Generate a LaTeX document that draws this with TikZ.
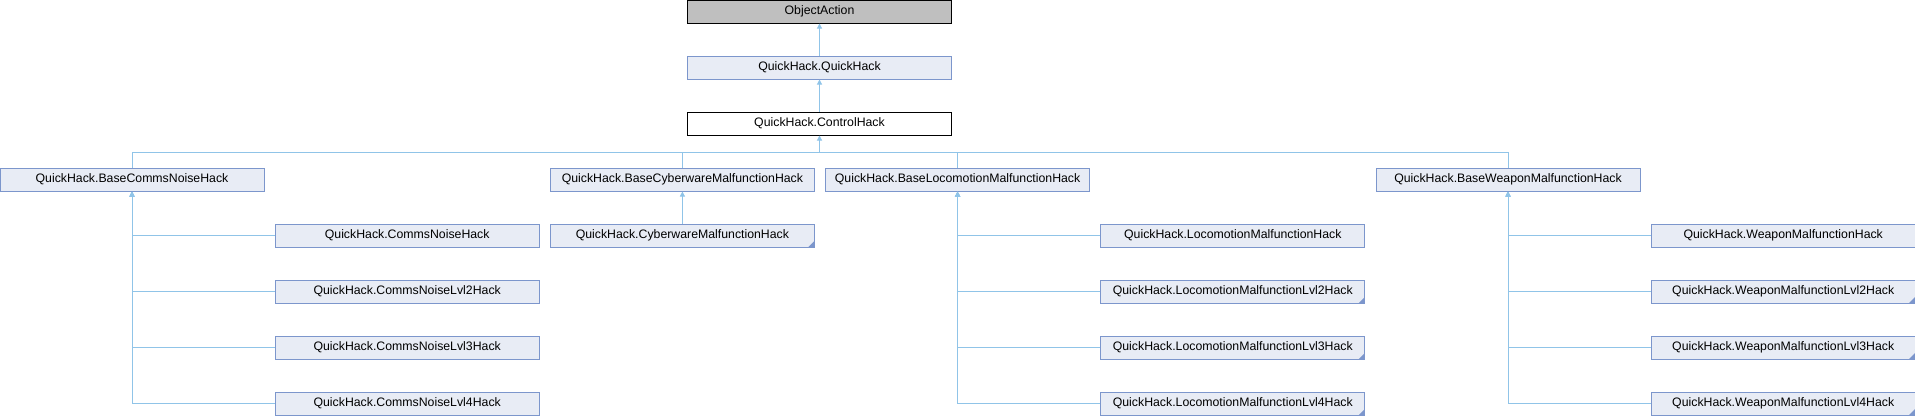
\documentclass[tikz,border=0pt]{standalone}
\usepackage{fontspec}
\setmainfont{Liberation Sans}
\usetikzlibrary{arrows.meta}
\definecolor{edgecol}{RGB}{144,196,232}
\definecolor{boxfill}{RGB}{232,236,245}
\definecolor{boxline}{RGB}{124,150,204}
\definecolor{grayfill}{RGB}{191,191,191}
\begin{document}
\begin{tikzpicture}[x=1pt,y=-1pt,
  cls/.style={draw=boxline,fill=boxfill,line width=1pt,minimum width=264pt,minimum height=23pt,inner sep=0pt,font=\fontsize{12.3}{14}\selectfont},
  rootcls/.style={cls,draw=black,fill=grayfill},
  curcls/.style={cls,draw=black,fill=white},
  conn/.style={draw=edgecol,line width=1pt},
  arr/.style={conn,-{Triangle[width=5pt,length=5pt]}},
  more/.style={fill=boxline}]
\useasboundingbox (0,0) rectangle (1915,416);
% top chain
\node[rootcls] (oa) at (819.5,11.5) {ObjectAction};
\node[cls] (qh) at (819.5,67.5) {QuickHack.QuickHack};
\node[curcls] (ch) at (819.5,123.5) {QuickHack.ControlHack};
% bases
\node[cls] (bcn) at (132,179.5) {QuickHack.BaseCommsNoiseHack};
\node[cls] (bcm) at (682.4,179.5) {QuickHack.BaseCyberwareMalfunctionHack};
\node[cls] (blm) at (957.6,179.5) {QuickHack.BaseLocomotionMalfunctionHack};
\node[cls] (bwm) at (1508,179.5) {QuickHack.BaseWeaponMalfunctionHack};
% comms children
\node[cls] (cn1) at (407.2,235.5) {QuickHack.CommsNoiseHack};
\node[cls] (cn2) at (407.2,291.5) {QuickHack.CommsNoiseLvl2Hack};
\node[cls] (cn3) at (407.2,347.5) {QuickHack.CommsNoiseLvl3Hack};
\node[cls] (cn4) at (407.2,403.5) {QuickHack.CommsNoiseLvl4Hack};
% cyberware child
\node[cls] (cm1) at (682.4,235.5) {QuickHack.CyberwareMalfunctionHack};
% locomotion children
\node[cls] (lm1) at (1232.8,235.5) {QuickHack.LocomotionMalfunctionHack};
\node[cls] (lm2) at (1232.8,291.5) {QuickHack.LocomotionMalfunctionLvl2Hack};
\node[cls] (lm3) at (1232.8,347.5) {QuickHack.LocomotionMalfunctionLvl3Hack};
\node[cls] (lm4) at (1232.8,403.5) {QuickHack.LocomotionMalfunctionLvl4Hack};
% weapon children
\node[cls] (wm1) at (1783.2,235.5) {QuickHack.WeaponMalfunctionHack};
\node[cls] (wm2) at (1783.2,291.5) {QuickHack.WeaponMalfunctionLvl2Hack};
\node[cls] (wm3) at (1783.2,347.5) {QuickHack.WeaponMalfunctionLvl3Hack};
\node[cls] (wm4) at (1783.2,403.5) {QuickHack.WeaponMalfunctionLvl4Hack};
% corner marks
\foreach \n in {cm1,lm2,lm3,lm4,wm2,wm3,wm4}{
  \fill[more] ([xshift=-0.5pt,yshift=0.5pt]\n.south east) -- ++(-6,0) -- ++(6,-6) -- cycle;
}
% edges
\draw[arr] (qh.north) -- (oa.south);
\draw[arr] (ch.north) -- (qh.south);
\coordinate (bus) at (0,152);
\draw[conn] (bcn.north) |- (bus -| bwm.north) -- (bwm.north);
\draw[conn] (bcm.north) -- (bcm.north |- bus);
\draw[conn] (blm.north) -- (blm.north |- bus);
\draw[arr] (ch.south |- bus) -- (ch.south);
\draw[arr] (cm1.north) -- (bcm.south);
\foreach \p/\c in {bcn/cn1,bcn/cn2,bcn/cn3,bcn/cn4,blm/lm1,blm/lm2,blm/lm3,blm/lm4,bwm/wm1,bwm/wm2,bwm/wm3,bwm/wm4}{
  \draw[arr] (\c.west) -| (\p.south);
}
\end{tikzpicture}
\end{document}
